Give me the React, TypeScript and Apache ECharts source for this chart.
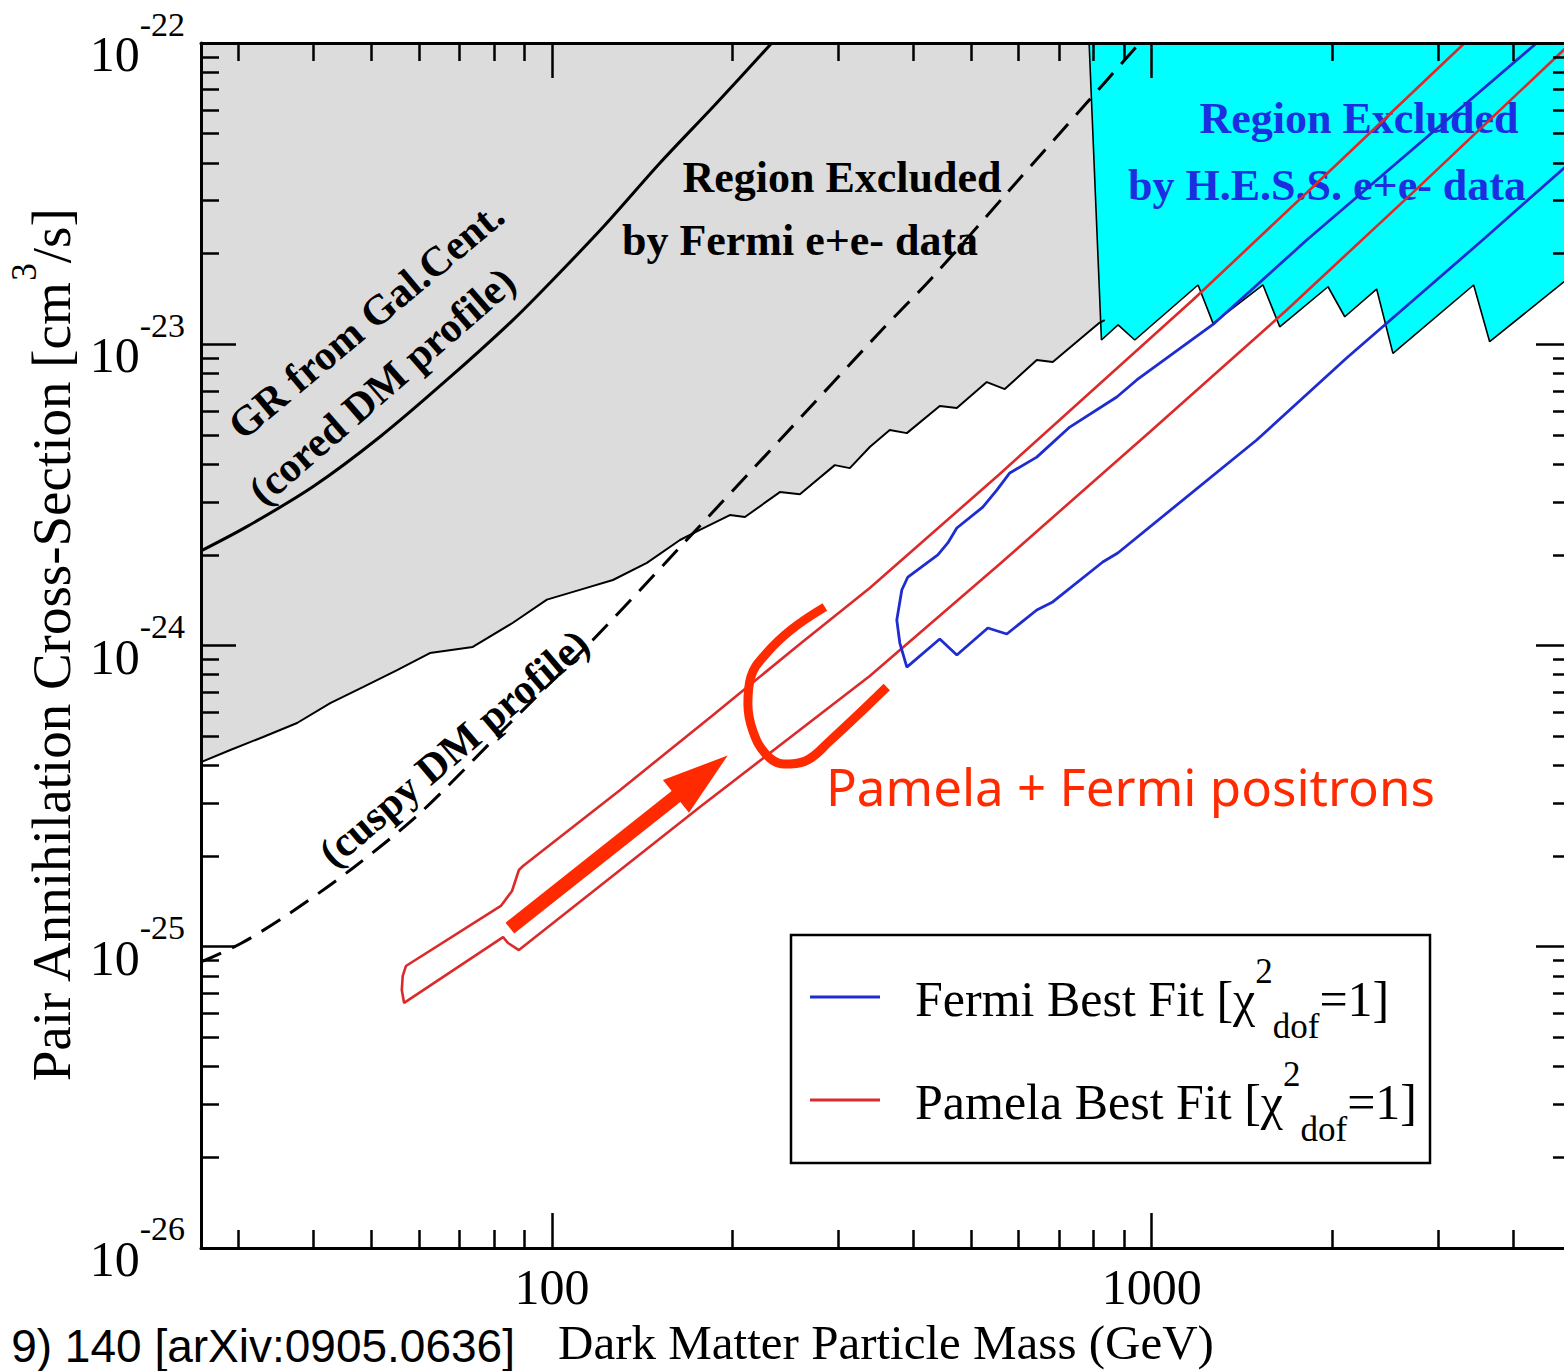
import React, { useEffect, useRef } from "react";
import * as echarts from "echarts";

const SERIF = '"Liberation Serif", "Times New Roman", Times, serif';
const SANS = '"Liberation Sans", Arial, Helvetica, sans-serif';
const HAND = '"Noto Sans", "Open Sans", sans-serif';

// ---------- axes (cross-section in cm^3/s, mass in GeV) ----------
const X_MIN = 26;
const X_MAX = 5000;
const Y_BOTTOM = 1e-26;
const Y_TOP = 1e-22;
// ECharts' log scale rounds tiny numbers, so the y values are plotted in units of 1e-26 cm^3/s
const Y_UNIT = 1e-26;

const xMajorTicks = [100, 1000];
const xMinorTicks = [30, 40, 50, 60, 70, 80, 90, 200, 300, 400, 500, 600, 700, 800, 900, 2000, 3000, 4000];
const yMajorTicks = [1e-26, 1e-25, 1e-24, 1e-23, 1e-22];
const yMinorTicks = [
  2e-26, 3e-26, 4e-26, 5e-26, 6e-26, 7e-26, 8e-26, 9e-26,
  2e-25, 3e-25, 4e-25, 5e-25, 6e-25, 7e-25, 8e-25, 9e-25,
  2e-24, 3e-24, 4e-24, 5e-24, 6e-24, 7e-24, 8e-24, 9e-24,
  2e-23, 3e-23, 4e-23, 5e-23, 6e-23, 7e-23, 8e-23, 9e-23,
];

// ---------- data: [mass GeV, cross-section cm^3/s] ----------
const fermiExcludedEdge: [number, number][] = [
  [26, 4.1e-25], [29.1, 4.5e-25], [33.0, 4.97e-25], [37.6, 5.53e-25], [42.7, 6.44e-25],
  [48.4, 7.28e-25], [55.2, 8.29e-25], [62.6, 9.44e-25], [73.8, 9.89e-25], [86.1, 1.19e-24],
  [98.1, 1.42e-24], [111.3, 1.53e-24], [126.4, 1.65e-24], [144.0, 1.88e-24], [163.5, 2.24e-24],
  [176.5, 2.42e-24], [198.0, 2.71e-24], [209.8, 2.67e-24], [239.9, 3.23e-24], [259.1, 3.18e-24],
  [296.2, 3.97e-24], [313.8, 3.88e-24], [338.8, 4.56e-24], [365.8, 5.19e-24], [390.6, 5.07e-24],
  [443.2, 6.24e-24], [473.2, 6.14e-24], [530.9, 7.49e-24], [568.9, 7.1e-24], [643.2, 8.87e-24],
  [683.9, 8.73e-24], [819, 1.18e-23], [835, 1.203e-23],
];

const hessExcludedEdge: [number, number][] = [
  [786.3, 1e-22], [824.4, 1.033e-23], [878.8, 1.159e-23], [936.9, 1.033e-23], [1194.6, 1.573e-23],
  [1265.5, 1.173e-23], [1532.7, 1.573e-23], [1634.5, 1.143e-23], [1967.5, 1.552e-23], [2098, 1.234e-23],
  [2371, 1.525e-23], [2524, 9.33e-24], [3441, 1.573e-23], [3659, 1.02e-23], [5000, 1.684e-23],
];

const grCoredProfile: [number, number][] = [
  [26, 2.06e-24], [31.0, 2.48e-24], [40.0, 3.37e-24], [51.7, 4.93e-24], [66.8, 7.61e-24],
  [86.1, 1.203e-23], [99.2, 1.597e-23], [122.6, 2.488e-23], [151.4, 3.996e-23], [186.9, 6.226e-23],
  [232.6, 1e-22],
];

const cuspyProfile: [number, number][] = [
  [26, 8.9e-26], [30.4, 1.029e-25], [36.6, 1.294e-25], [46.6, 1.826e-25], [60.3, 2.78e-25],
  [81.9, 5.12e-25], [117.0, 1.043e-24], [163.5, 2.12e-24], [239.9, 4.81e-24], [354.8, 1.115e-23],
  [430.0, 1.66e-23], [575.4, 3.2e-23], [773.4, 6.226e-23], [955, 1e-22],
];

const pamelaContour: [number, number][] = [
  [3324, 1e-22], [1980.6, 3.76e-23], [1170.6, 1.402e-23], [558.0, 3.71e-24], [338.8, 1.552e-24],
  [259.1, 1.012e-24], [184.8, 5.83e-25], [129.8, 3.31e-25], [89.5, 1.854e-25], [88.1, 1.798e-25],
  [85.8, 1.531e-25], [82.2, 1.366e-25], [57.1, 8.63e-26], [56.4, 8.0e-26], [56.2, 7.18e-26],
  [56.7, 6.51e-26], [82.9, 1.077e-25], [84.5, 1.029e-25], [88.1, 9.75e-26], [176.5, 2.91e-25],
  [338.8, 7.92e-25], [558.0, 1.865e-24], [992.4, 5.11e-24], [1679, 1.299e-23], [2797, 3.35e-23],
  [5000, 1e-22],
];

const fermiContour: [number, number][] = [
  [4383, 1e-22], [1813, 2.218e-23], [1273.5, 1.176e-23], [944.1, 7.61e-24], [874.5, 6.68e-24],
  [730.0, 5.31e-24], [643.2, 4.22e-24], [579.9, 3.74e-24], [551.7, 3.28e-24], [522.8, 2.88e-24],
  [473.2, 2.455e-24], [457.1, 2.19e-24], [439.9, 2.0e-24], [392.1, 1.688e-24], [383.1, 1.528e-24],
  [375.8, 1.215e-24], [380.2, 1.019e-24], [390.6, 8.48e-25], [443.2, 1.051e-24], [473.2, 9.3e-25],
  [533.0, 1.143e-24], [573.3, 1.092e-24], [643.2, 1.312e-24], [683.9, 1.395e-24], [828.6, 1.893e-24],
  [877.8, 2.028e-24], [1496, 4.81e-24], [2113, 9.0e-24], [3562, 2.218e-23], [5000, 4.03e-23],
];

// hand-drawn annotations (in data space)
const arrowTail: [number, number] = [85.1, 1.153e-25];
const arrowHead: [number, number] = [177.8, 3.69e-25];
const bracketC: [number, number][] = [
  [285.1, 1.342e-24], [250.2, 1.126e-24], [227.3, 9.37e-25], [214.6, 7.86e-25], [212.2, 6.39e-25],
  [216.3, 5.2e-25], [227.3, 4.36e-25], [243.6, 4.04e-25], [264.1, 4.13e-25], [290.6, 4.82e-25],
  [361.6, 7.28e-25],
];

// ---------- helpers ----------
const sy = (v: number) => v / Y_UNIT;
const toPlot = (pts: [number, number][]) => pts.map(([m, s]) => [m, sy(s)]);
const Y_MIN = sy(Y_BOTTOM) * 0.99999;
const Y_MAX = sy(Y_TOP) * 1.00001;
const UNIT_EXP = Math.round(Math.log10(Y_UNIT));

const FERMI_BLUE = "#1f2cd0";
const PAMELA_RED = "#dc2a2a";
const ANNOT_RED = "#ff2a00";
const HESS_BLUE = "#1b2fe0";
const BLACK = "#000000";

const tickLine = { color: BLACK, width: 2.5 };

function logXAxis(position: "bottom" | "top", ticks: number[], len: number, showLine: boolean, extra: any = {}) {
  return {
    type: "log",
    logBase: 10,
    min: X_MIN,
    max: X_MAX,
    position,
    z: 10,
    axisLine: { show: showLine, onZero: false, lineStyle: { color: BLACK, width: 3 } },
    axisTick: { show: true, inside: true, length: len, lineStyle: tickLine, customValues: ticks },
    axisLabel: { show: false },
    splitLine: { show: false },
    minorTick: { show: false },
    minorSplitLine: { show: false },
    ...extra,
  };
}

function logYAxis(position: "left" | "right", ticks: number[], len: number, showLine: boolean, extra: any = {}) {
  return {
    type: "log",
    logBase: 10,
    min: Y_MIN,
    max: Y_MAX,
    position,
    z: 10,
    axisLine: { show: showLine, onZero: false, lineStyle: { color: BLACK, width: 3 } },
    axisTick: { show: true, inside: true, length: len, lineStyle: tickLine, customValues: ticks.map(sy) },
    axisLabel: { show: false },
    splitLine: { show: false },
    minorTick: { show: false },
    minorSplitLine: { show: false },
    ...extra,
  };
}

function regionText(text: string, x: number, y: number, color: string, rotationDeg = 0, size = 44) {
  return {
    type: "text",
    x,
    y,
    rotation: (rotationDeg * Math.PI) / 180,
    z: 2,
    silent: true,
    style: {
      text,
      fontSize: size,
      fontWeight: "bold",
      fontFamily: SERIF,
      fill: color,
      align: "center",
      verticalAlign: "middle",
    },
  };
}

const legendRich = {
  t: { fontSize: 50, fontFamily: SERIF, fill: BLACK, lineHeight: 90, verticalAlign: "middle" },
  p: { fontSize: 35, fontFamily: SERIF, fill: BLACK, lineHeight: 35, verticalAlign: "top" },
  b: { fontSize: 35, fontFamily: SERIF, fill: BLACK, lineHeight: 35, verticalAlign: "bottom" },
};

const topCorner = (m: number): [number, number] => [m, Y_TOP];

const option: any = {
  animation: false,
  backgroundColor: "#ffffff",
  grid: {
    left: 201,
    right: -7,
    top: 43,
    bottom: 123,
    containLabel: false,
    outerBoundsMode: "none",
    show: false,
  },
  xAxis: [
    logXAxis("bottom", xMajorTicks, 35, true, {
      axisLabel: {
        show: true,
        customValues: xMajorTicks,
        margin: 14,
        fontSize: 50,
        fontFamily: SERIF,
        color: BLACK,
        formatter: (v: number) => String(Math.round(v)),
      },
      name: "Dark Matter Particle Mass (GeV)",
      nameLocation: "middle",
      nameGap: 70,
      nameMoveOverlap: false,
      nameTextStyle: { fontSize: 49, fontFamily: SERIF, color: BLACK },
    }),
    logXAxis("bottom", xMinorTicks, 18, false),
    logXAxis("top", xMajorTicks, 35, true),
    logXAxis("top", xMinorTicks, 18, false),
  ],
  yAxis: [
    logYAxis("left", yMajorTicks, 35, true, {
      axisLabel: {
        show: true,
        customValues: yMajorTicks.map(sy),
        margin: 16,
        formatter: (v: number) => `{b|10}{s|${Math.round(Math.log10(v)) + UNIT_EXP}}`,
        rich: {
          b: { fontSize: 50, fontFamily: SERIF, color: BLACK, lineHeight: 72, verticalAlign: "bottom" },
          s: { fontSize: 34, fontFamily: SERIF, color: BLACK, lineHeight: 34, verticalAlign: "top" },
        },
      },
      name: "{t|Pair Annihilation Cross-Section [cm}{s|3}{t|/s]}",
      nameLocation: "middle",
      nameRotate: 90,
      nameGap: 122,
      nameMoveOverlap: false,
      nameTextStyle: {
        rich: {
          t: { fontSize: 55, fontFamily: SERIF, color: BLACK, lineHeight: 72, verticalAlign: "bottom" },
          s: { fontSize: 35, fontFamily: SERIF, color: BLACK, lineHeight: 35, verticalAlign: "top" },
        },
      },
    }),
    logYAxis("left", yMinorTicks, 18, false),
    logYAxis("right", yMajorTicks, 35, true),
    logYAxis("right", yMinorTicks, 18, false),
  ],
  series: [
    {
      name: "Excluded by Fermi e+e- data (fill)",
      type: "line",
      z: 1,
      data: toPlot([topCorner(X_MIN), ...fermiExcludedEdge, topCorner(835)]),
      symbol: "none",
      silent: true,
      lineStyle: { width: 0, opacity: 0 },
      areaStyle: { color: "#dcdcdc", opacity: 1, origin: "end" },
    },
    {
      name: "Excluded by H.E.S.S. e+e- data (fill)",
      type: "line",
      z: 1,
      data: toPlot([...hessExcludedEdge, topCorner(X_MAX)]),
      symbol: "none",
      silent: true,
      lineStyle: { width: 0, opacity: 0 },
      areaStyle: { color: "#00ffff", opacity: 1, origin: "end" },
    },
    {
      name: "Excluded by Fermi e+e- data",
      type: "line",
      z: 1.5,
      data: toPlot(fermiExcludedEdge),
      symbol: "none",
      silent: true,
      lineStyle: { color: BLACK, width: 2 },
    },
    {
      name: "Excluded by H.E.S.S. e+e- data",
      type: "line",
      z: 1.5,
      data: toPlot(hessExcludedEdge),
      symbol: "none",
      silent: true,
      lineStyle: { color: BLACK, width: 1.6 },
    },
    {
      name: "GR from Gal.Cent. (cored DM profile)",
      type: "line",
      z: 3,
      data: toPlot(grCoredProfile),
      symbol: "none",
      smooth: 0.3,
      silent: true,
      lineStyle: { color: BLACK, width: 3 },
    },
    {
      name: "cuspy DM profile",
      type: "line",
      z: 3,
      data: toPlot(cuspyProfile),
      symbol: "none",
      smooth: 0.3,
      silent: true,
      lineStyle: { color: BLACK, width: 3, type: [22, 12] },
    },
    {
      name: "Pamela Best Fit",
      type: "line",
      z: 3,
      data: toPlot(pamelaContour),
      symbol: "none",
      silent: true,
      lineStyle: { color: PAMELA_RED, width: 2.6 },
    },
    {
      name: "Fermi Best Fit",
      type: "line",
      z: 3,
      data: toPlot(fermiContour),
      symbol: "none",
      silent: true,
      lineStyle: { color: FERMI_BLUE, width: 2.8 },
    },
    {
      name: "arrow",
      type: "line",
      z: 4,
      silent: true,
      symbol: "none",
      data: [
        { value: [arrowTail[0], sy(arrowTail[1])], symbol: "none" },
        {
          value: [arrowHead[0], sy(arrowHead[1])],
          symbol: "triangle",
          symbolSize: [42, 66],
          symbolRotate: -51.7,
          itemStyle: { color: ANNOT_RED, borderWidth: 0 },
        },
      ],
      itemStyle: { color: ANNOT_RED },
      lineStyle: { color: ANNOT_RED, width: 14, cap: "butt" },
    },
    {
      name: "bracket",
      type: "line",
      z: 4,
      silent: true,
      symbol: "none",
      smooth: 0.4,
      data: toPlot(bracketC),
      lineStyle: { color: ANNOT_RED, width: 9, cap: "butt" },
    },
  ],
  graphic: [
    regionText("Region Excluded", 842, 177, BLACK),
    regionText("by Fermi e+e- data", 800, 240, BLACK),
    regionText("Region Excluded", 1359, 118, HESS_BLUE),
    regionText("by H.E.S.S. e+e- data", 1327, 185, HESS_BLUE),
    regionText("GR from Gal.Cent.", 366, 320, BLACK, 40, 42),
    regionText("(cored DM profile)", 382, 386, BLACK, 41, 42),
    regionText("(cuspy DM profile)", 454, 748, BLACK, 40.5, 42),
    {
      type: "text",
      x: 826,
      y: 786,
      z: 5,
      silent: true,
      style: {
        text: "Pamela + Fermi positrons",
        fontSize: 51,
        fontFamily: HAND,
        fill: ANNOT_RED,
        align: "left",
        verticalAlign: "middle",
      },
    },
    {
      type: "rect",
      z: 20,
      silent: true,
      shape: { x: 791, y: 935, width: 639, height: 228 },
      style: { fill: "#ffffff", stroke: BLACK, lineWidth: 2.5 },
    },
    {
      type: "line",
      z: 21,
      silent: true,
      shape: { x1: 810, y1: 997, x2: 880, y2: 997 },
      style: { stroke: FERMI_BLUE, lineWidth: 3 },
    },
    {
      type: "line",
      z: 21,
      silent: true,
      shape: { x1: 810, y1: 1100, x2: 880, y2: 1100 },
      style: { stroke: PAMELA_RED, lineWidth: 3 },
    },
    {
      type: "text",
      x: 915,
      y: 999,
      z: 21,
      silent: true,
      style: {
        text: "{t|Fermi Best Fit [χ}{p|2}{b|dof}{t|=1]}",
        fontSize: 50,
        fontFamily: SERIF,
        fill: BLACK,
        align: "left",
        verticalAlign: "middle",
        rich: legendRich,
      },
    },
    {
      type: "text",
      x: 915,
      y: 1102,
      z: 21,
      silent: true,
      style: {
        text: "{t|Pamela Best Fit [χ}{p|2}{b|dof}{t|=1]}",
        fontSize: 50,
        fontFamily: SERIF,
        fill: BLACK,
        align: "left",
        verticalAlign: "middle",
        rich: legendRich,
      },
    },
    {
      type: "text",
      x: 515,
      y: 1346,
      z: 5,
      silent: true,
      style: {
        text: "9) 140 [arXiv:0905.0636]",
        fontSize: 46,
        fontFamily: SANS,
        fill: BLACK,
        align: "right",
        verticalAlign: "middle",
      },
    },
  ],
};

export default function App() {
  const ref = useRef<HTMLDivElement>(null);
  useEffect(() => {
    if (!ref.current) return;
    const chart = echarts.init(ref.current, null, { renderer: "svg" });
    chart.setOption(option);
    return () => chart.dispose();
  }, []);
  return (
    <div
      ref={ref}
      style={{ position: "absolute", left: 0, top: 0, width: 1564, height: 1371, background: "#fff" }}
    />
  );
}
